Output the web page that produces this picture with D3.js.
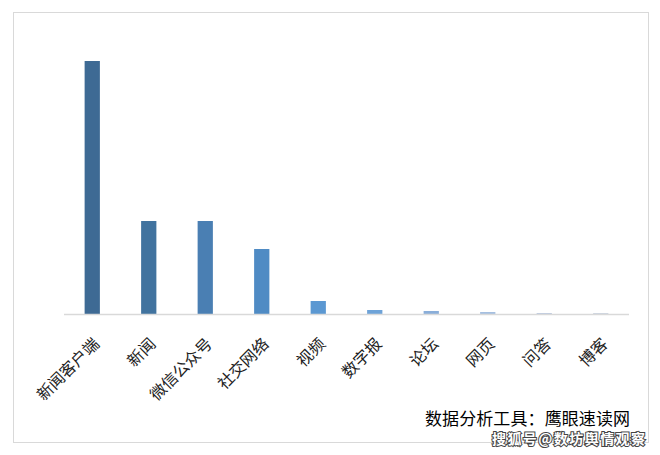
<!DOCTYPE html>
<html>
<head>
<meta charset="utf-8">
<script src="https://cdn.jsdelivr.net/npm/d3@7"></script>
<style>
  html, body { margin: 0; padding: 0; background: #fff; }
  svg { display: block; }
</style>
</head>
<body>
<svg id="chart" width="660" height="455"></svg>
<script>
const categories = ["新闻客户端", "新闻", "微信公众号", "社交网络", "视频", "数字报", "论坛", "网页", "问答", "博客"];
const values = [253, 93, 93, 65, 13, 4, 3, 2, 1, 1];
const colors = ["#3e6a94", "#41739f", "#4a7fb3", "#4f8bc4", "#5b98d2", "#6ea3d8", "#8aaed9", "#a5bfe0", "#bccae0", "#cdd5e0"];
const sourceText = "数据分析工具：鹰眼速读网";
const watermark = "搜狐号@数坊舆情观察";

const svg = d3.select("#chart");
const W = 660, H = 455;
const margin = { left: 64, right: 31, top: 14, bottom: 141 };

svg.append("rect").attr("x", 0).attr("y", 0).attr("width", W).attr("height", H).attr("fill", "#fff");
svg.append("rect").attr("x", 13.5).attr("y", 12.5).attr("width", 635).attr("height", 430)
  .attr("fill", "none").attr("stroke", "#d9d9d9").attr("stroke-width", 1);

const x = d3.scaleBand().domain(categories).range([margin.left, W - margin.right]).paddingInner(0.73).paddingOuter(0.365);
const y = d3.scaleLinear().domain([0, 300]).range([H - margin.bottom, margin.top]);

svg.append("g").selectAll("rect").data(categories).join("rect")
  .attr("x", d => x(d))
  .attr("y", (d, i) => y(values[i]))
  .attr("width", x.bandwidth())
  .attr("height", (d, i) => y(0) - y(values[i]))
  .attr("fill", (d, i) => colors[i]);

const axis = d3.axisBottom(x).tickSize(0).tickPadding(0);
const gx = svg.append("g").attr("transform", `translate(0,${y(0)})`).call(axis);
gx.select(".domain").attr("stroke", "#d9d9d9").attr("stroke-width", 1.5)
  .attr("d", `M${margin.left},0.5H${W - margin.right}`);
gx.selectAll(".tick text")
  .attr("font-family", "'Noto Sans CJK SC', sans-serif")
  .attr("font-size", 16)
  .attr("fill", "#222")
  .attr("text-anchor", "end")
  .attr("dy", 0)
  .attr("transform", "translate(8,31) rotate(-45)");

svg.append("text").attr("x", 425).attr("y", 424.5)
  .attr("font-family", "'Noto Sans CJK SC', sans-serif").attr("font-size", 17)
  .attr("fill", "#000").attr("textLength", 205).text(sourceText);

svg.append("text").attr("x", 492).attr("y", 444)
  .attr("font-family", "'Noto Sans CJK SC', sans-serif").attr("font-size", 14).attr("font-weight", "bold")
  .attr("fill", "#fff").attr("stroke", "#444").attr("stroke-width", 2).attr("paint-order", "stroke")
  .attr("textLength", 153)
  .text(watermark);
</script>
</body>
</html>
